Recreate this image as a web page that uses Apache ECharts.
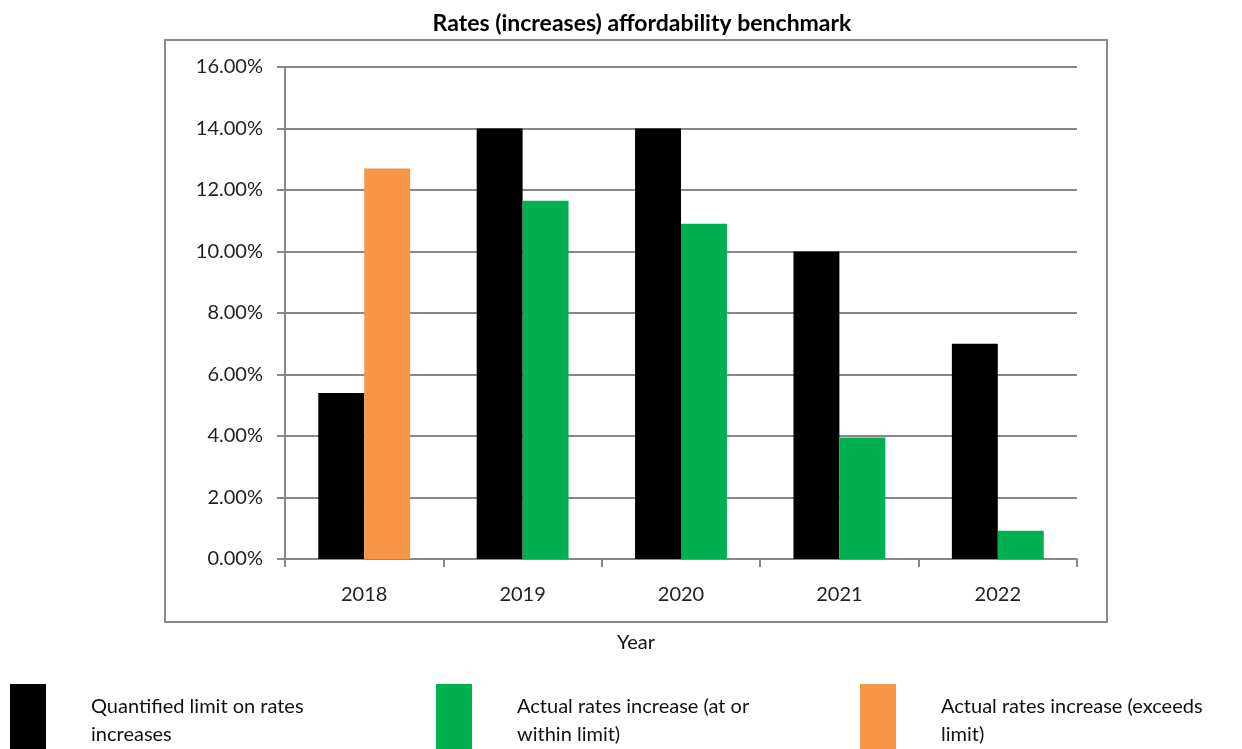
<!DOCTYPE html>
<html>
<head>
<meta charset="utf-8">
<script src="https://cdn.jsdelivr.net/npm/echarts@6/dist/echarts.min.js"></script>
<style>
  html, body { margin: 0; padding: 0; background: #fff; }
  #chart { width: 1242px; height: 749px; }
</style>
</head>
<body>
<div id="chart"></div>
<script>
// Rates affordability benchmark data (percent)
const years = ['2018', '2019', '2020', '2021', '2022'];
const limitValues = [5.4, 14.0, 14.0, 10.0, 7.0];
const withinLimitValues = [null, 11.65, 10.9, 3.95, 0.92];
const exceedsLimitValues = [12.7, null, null, null, null];
const seriesNames = [
  'Quantified limit on rates\nincreases',
  'Actual rates increase (at or\nwithin limit)',
  'Actual rates increase (exceeds\nlimit)'
];

const FONT = 'Lato, "Open Sans", sans-serif';
const GRID_GRAY = '#878787';

const chart = echarts.init(document.getElementById('chart'), null, { renderer: 'canvas' });

// One legend block per series, laid out in three fixed columns
function legendFor(name, left) {
  return {
    data: [name],
    left: left,
    top: 679,
    orient: 'horizontal',
    icon: 'rect',
    itemWidth: 36,
    itemHeight: 73,
    selectedMode: false,
    textStyle: {
      fontFamily: FONT,
      fontSize: 20,
      color: '#111',
      lineHeight: 28,
      padding: [17, 0, 0, 40]
    }
  };
}

chart.setOption({
  animation: false,
  backgroundColor: '#fff',
  title: {
    text: 'Rates (increases) affordability benchmark',
    left: 637,
    textAlign: 'center',
    top: 7,
    textStyle: { fontFamily: FONT, fontSize: 23, fontWeight: 'bold', color: '#000' }
  },
  legend: [
    legendFor(seriesNames[0], 5),
    legendFor(seriesNames[1], 431),
    legendFor(seriesNames[2], 855)
  ],
  grid: { left: 285, right: 165, top: 67, bottom: 190, containLabel: false },
  xAxis: {
    type: 'category',
    data: years,
    axisLine: { lineStyle: { color: GRID_GRAY, width: 2 } },
    axisTick: { show: true, length: 8, lineStyle: { color: GRID_GRAY, width: 2 } },
    axisLabel: { fontFamily: FONT, fontSize: 20, color: '#222', margin: 26 }
  },
  yAxis: {
    type: 'value',
    min: 0,
    max: 16,
    interval: 2,
    axisLine: { show: true, lineStyle: { color: GRID_GRAY, width: 2 } },
    axisTick: { show: true, length: 8, lineStyle: { color: GRID_GRAY, width: 2 } },
    splitLine: { lineStyle: { color: GRID_GRAY, width: 2 } },
    axisLabel: {
      fontFamily: FONT, fontSize: 20, color: '#222', margin: 22,
      formatter: v => v.toFixed(2) + '%'
    }
  },
  series: [
    {
      name: seriesNames[0],
      type: 'bar',
      data: limitValues,
      itemStyle: { color: '#000000' },
      barGap: '0%',
      barCategoryGap: '42%'
    },
    {
      name: seriesNames[1],
      type: 'bar',
      stack: 'actual',
      data: withinLimitValues,
      itemStyle: { color: '#00B050' }
    },
    {
      name: seriesNames[2],
      type: 'bar',
      stack: 'actual',
      data: exceedsLimitValues,
      itemStyle: { color: '#F79646' }
    }
  ],
  graphic: [
    {
      type: 'rect',
      shape: { x: 165, y: 40, width: 942, height: 582 },
      style: { fill: null, stroke: '#8a8a8a', lineWidth: 2 },
      silent: true,
      z: -1
    },
    {
      type: 'text',
      x: 636,
      y: 643,
      style: {
        text: 'Year', font: '20px ' + FONT, fill: '#111',
        textAlign: 'center', textVerticalAlign: 'middle'
      }
    }
  ]
});
</script>
</body>
</html>
